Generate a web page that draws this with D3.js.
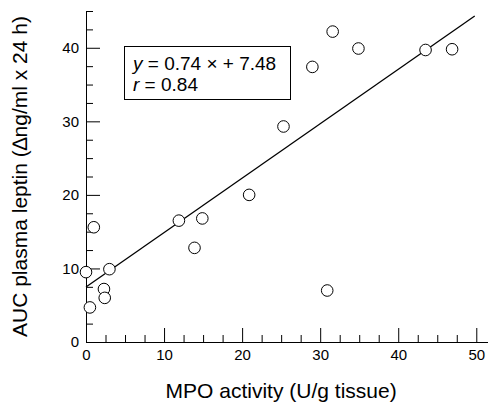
<!DOCTYPE html>
<html>
<head>
<meta charset="utf-8">
<script src="https://cdn.jsdelivr.net/npm/d3@7"></script>
<style>
  body { margin: 0; background: #fff; }
  text { font-family: "Liberation Sans", Arial, sans-serif; }
</style>
</head>
<body>
<div id="chart"></div>
<script>
// MPO activity (U/g tissue) vs AUC plasma leptin
const mpo    = [0.0, 0.5, 1.0, 2.3, 2.4, 3.0, 11.9, 13.9, 14.9, 20.9, 25.3, 29.0, 30.9, 31.6, 34.9, 43.5, 46.9];
const leptin = [9.5, 4.7, 15.6, 7.2, 6.0, 9.9, 16.5, 12.8, 16.8, 20.0, 29.3, 37.4, 7.0, 42.2, 39.9, 39.7, 39.8];
const slope = 0.74, intercept = 7.48, rValue = 0.84;
const fitRange = [0, 49.8];
const xMajor = [0, 10, 20, 30, 40, 50];
const yMajor = [0, 10, 20, 30, 40];

const width = 488, height = 403;
const svg = d3.select("#chart").append("svg")
    .attr("width", width)
    .attr("height", height);

const x = d3.scaleLinear().domain([0, 51.5]).range([86, 488]);
const y = d3.scaleLinear().domain([0, 45]).range([342, 11]);

const xMinor = d3.range(2.5, 50, 2.5).filter(v => v % 10 !== 0);
const yMinor = d3.range(2.5, 45.1, 2.5).filter(v => v % 10 !== 0);

// Axes (ticks point inward)
const gx = svg.append("g").attr("transform", `translate(0,${y(0)})`);
gx.call(d3.axisBottom(x).tickValues(xMajor).tickSizeInner(-14).tickSizeOuter(0).tickPadding(7));
gx.append("g").call(d3.axisBottom(x).tickValues(xMinor).tickSize(-7).tickFormat(""))
    .select(".domain").remove();

const gy = svg.append("g").attr("transform", `translate(${x(0)},0)`);
gy.call(d3.axisLeft(y).tickValues(yMajor).tickSizeInner(-14).tickSizeOuter(0).tickPadding(7));
gy.append("g").call(d3.axisLeft(y).tickValues(yMinor).tickSize(-7).tickFormat(""))
    .select(".domain").remove();

svg.selectAll(".tick text")
    .style("font-family", "'Liberation Sans', Arial, sans-serif")
    .style("font-size", "15px")
    .attr("fill", "#000");
svg.selectAll(".domain, .tick line").attr("stroke", "#000").attr("stroke-width", 1);

// Regression line
svg.append("line")
    .attr("x1", x(fitRange[0]))
    .attr("y1", y(slope * fitRange[0] + intercept))
    .attr("x2", x(fitRange[1]))
    .attr("y2", y(slope * fitRange[1] + intercept))
    .attr("stroke", "#000")
    .attr("stroke-width", 1.3);

// Points
svg.selectAll(".pt")
    .data(mpo.map((v, i) => [v, leptin[i]]))
    .enter()
    .append("circle")
    .attr("class", "pt")
    .attr("cx", d => x(d[0]))
    .attr("cy", d => y(d[1]))
    .attr("r", 5.8)
    .attr("fill", "#fff")
    .attr("stroke", "#000")
    .attr("stroke-width", 1);

// Equation box
svg.append("rect")
    .attr("x", 124.5).attr("y", 46.5)
    .attr("width", 166).attr("height", 53)
    .attr("fill", "#fff")
    .attr("stroke", "#000")
    .attr("stroke-width", 1);

const eq = svg.append("text").attr("x", 133).attr("y", 70).attr("font-size", "19px");
eq.append("tspan").attr("font-style", "italic").text("y");
eq.append("tspan").text(` = ${slope.toFixed(2)} \u00d7 + ${intercept.toFixed(2)}`);

const rt = svg.append("text").attr("x", 133).attr("y", 91).attr("font-size", "19px");
rt.append("tspan").attr("font-style", "italic").text("r");
rt.append("tspan").text(` = ${rValue.toFixed(2)}`);

// Axis titles
svg.append("text")
    .attr("x", x(25))
    .attr("y", 398)
    .attr("text-anchor", "middle")
    .attr("font-size", "21px")
    .text("MPO activity (U/g tissue)");

svg.append("text")
    .attr("transform", `translate(27,${y(22.5)}) rotate(-90)`)
    .attr("text-anchor", "middle")
    .attr("font-size", "21px")
    .text("AUC plasma leptin (\u2206ng/ml x 24 h)");
</script>
</body>
</html>
